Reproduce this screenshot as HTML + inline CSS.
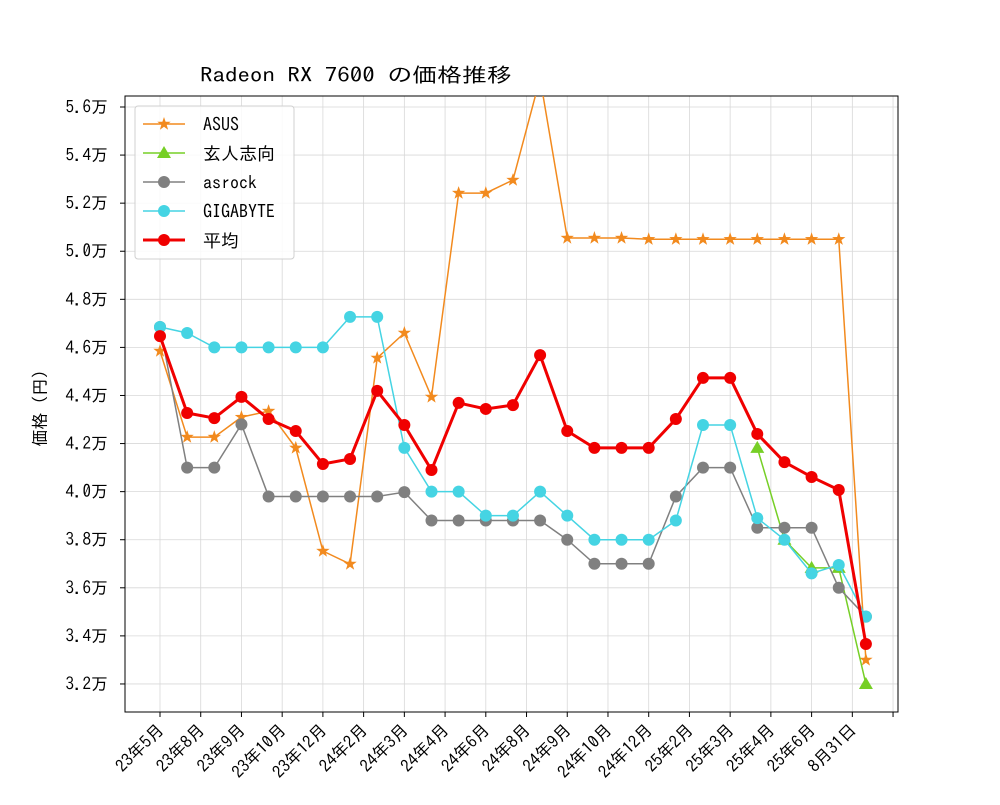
<!DOCTYPE html>
<html><head><meta charset="utf-8"><style>
body{margin:0;background:#fff}
text{font-family:"IPAGothic","Liberation Mono","Noto Sans CJK JP",monospace;fill:#000}
</style></head><body>
<svg id="chart" width="1000" height="800" xmlns="http://www.w3.org/2000/svg">
<text x="200" y="82" font-size="20" textLength="312" lengthAdjust="spacingAndGlyphs">Radeon RX 7600 の価格推移</text>
<text transform="translate(46,404) rotate(-90)" font-size="17" text-anchor="middle">価格（円）</text>
<g id="grid"></g><g id="axes"></g><g id="series"></g><g id="legend"></g>
</svg>
<script>
const categories=["23年5月","23年8月","23年9月","23年10月","23年12月","24年2月","24年3月","24年4月","24年6月","24年8月","24年9月","24年10月","24年12月","25年2月","25年3月","25年4月","25年6月","8月31日"];
const yTicks=[3.2,3.4,3.6,3.8,4.0,4.2,4.4,4.6,4.8,5.0,5.2,5.4,5.6];
const asus=[4.585,4.227,4.227,4.31,4.335,4.182,3.753,3.699,4.556,4.66,4.394,5.242,5.242,5.296,5.72,5.055,5.055,5.055,5.05,5.05,5.05,5.05,5.05,5.05,5.05,5.05,3.30];
const kuro=[null,null,null,null,null,null,null,null,null,null,null,null,null,null,null,null,null,null,null,null,null,null,4.182,3.80,3.683,3.683,3.20];
const asrock=[4.685,4.10,4.10,4.28,3.98,3.98,3.98,3.98,3.98,3.998,3.88,3.88,3.88,3.88,3.88,3.80,3.70,3.70,3.70,3.98,4.10,4.10,3.85,3.85,3.85,3.60,3.48];
const gigabyte=[4.685,4.66,4.60,4.60,4.60,4.60,4.60,4.727,4.727,4.182,4.0,4.0,3.90,3.90,4.0,3.90,3.80,3.80,3.80,3.88,4.277,4.277,3.89,3.80,3.66,3.695,3.48];
const average=[4.647,4.327,4.306,4.394,4.302,4.252,4.115,4.136,4.419,4.277,4.090,4.369,4.344,4.360,4.568,4.252,4.182,4.182,4.182,4.302,4.473,4.473,4.240,4.123,4.061,4.007,3.366];
const L=125,R=898,T=96,B=712;
const X=i=>160+i*27.15;
const Y=v=>107+(5.6-v)*240.4;
const NS="http://www.w3.org/2000/svg";
function mk(tag,attrs,parent){const e=document.createElementNS(NS,tag);for(const k in attrs)e.setAttribute(k,attrs[k]);parent.appendChild(e);return e;}
const grid=document.getElementById('grid'),axes=document.getElementById('axes'),ser=document.getElementById('series'),leg=document.getElementById('legend');
for(let k=0;k<=categories.length;k++){const x=X(k*1.5);
 const g=mk('line',{x1:x,x2:x,y1:T,y2:B,stroke:'#d8d8d8','stroke-width':0.8},grid);
 
 const t=mk('line',{x1:x,x2:x,y1:B,y2:B+5,stroke:'#000'},axes);
 
 if(k<categories.length){const tx=mk('text',{x:x+5,y:B+19,'font-size':17,'text-anchor':'end',transform:`rotate(-45 ${x+5} ${B+19})`},axes);tx.textContent=categories[k];
 }
}
yTicks.forEach(v=>{const y=Y(v);
 const g=mk('line',{x1:L,x2:R,y1:y,y2:y,stroke:'#d8d8d8','stroke-width':0.8},grid);
 
 const t=mk('line',{x1:L-5,x2:L,y1:y,y2:y,stroke:'#000'},axes);
 
 const tx=mk('text',{x:L-17,y:y+6,'font-size':17,'text-anchor':'end'},axes);tx.textContent=v.toFixed(1)+'万';
 
});
const fr=mk('rect',{x:L,y:T,width:R-L,height:B-T,fill:'none',stroke:'#000','stroke-width':1},axes);

const cp=mk('clipPath',{id:'clip'},ser);
mk('rect',{x:L,y:T,width:R-L,height:B-T},cp);
function star(cx,cy,r){let p=[];for(let i=0;i<10;i++){const a=-Math.PI/2+i*Math.PI/5,rr=i%2?r*0.4:r;p.push((cx+rr*Math.cos(a)).toFixed(1)+','+(cy+rr*Math.sin(a)).toFixed(1));}return p.join(' ');}
function marker(type,cx,cy,color,parent){
 let e;
 if(type==='star')e=mk('polygon',{points:star(cx,cy,7),fill:color},parent);
 else if(type==='tri')e=mk('polygon',{points:`${cx},${cy-7} ${cx-7},${cy+5} ${cx+7},${cy+5}`,fill:color},parent);
 else e=mk('circle',{cx:cx,cy:cy,r:6,fill:color},parent);
 return e;}
const seriesList=[
 {name:'ASUS',data:asus,color:'#f28a1e',w:1.5,m:'star',id:'asus'},
 {name:'玄人志向',data:kuro,color:'#76cf26',w:1.5,m:'tri',id:'kuroutoshikou'},
 {name:'asrock',data:asrock,color:'#808080',w:1.5,m:'circle',id:'asrock'},
 {name:'GIGABYTE',data:gigabyte,color:'#45d4e3',w:1.5,m:'circle',id:'gigabyte'},
 {name:'平均',data:average,color:'#f00000',w:3,m:'circle',id:'average'}];
seriesList.forEach(s=>{
 const g=mk('g',{'clip-path':'url(#clip)'},ser);
 
 const pts=[];s.data.forEach((v,i)=>{if(v!==null)pts.push([X(i),Y(v)]);});
 const pl=mk('polyline',{points:pts.map(p=>p.join(',')).join(' '),fill:'none',stroke:s.color,'stroke-width':s.w},g);
 
 pts.forEach(p=>{const m=marker(s.m,p[0],p[1],s.color,g);
  });
});
const box=mk('rect',{x:135,y:106,width:159,height:153,rx:3,fill:'#fff','fill-opacity':0.85,stroke:'#d0d0d0'},leg);

seriesList.forEach((s,i)=>{const y=124+i*29;
 const g=mk('g',{},leg);
 
 mk('line',{x1:143,x2:185,y1:y,y2:y,stroke:s.color,'stroke-width':s.w},g);
 marker(s.m,164,y,s.color,g);
 const t=mk('text',{x:203,y:y+7,'font-size':18},g);t.textContent=s.name;});
</script>
</body></html>
